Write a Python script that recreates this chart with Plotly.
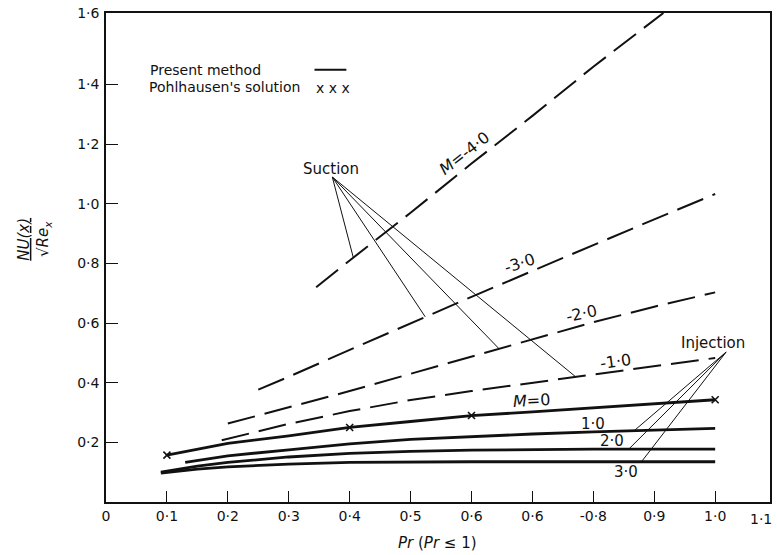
import numpy as np
import plotly.graph_objects as go

# ---------------- data ----------------
# Present method, injection / impermeable (solid lines)
x_m0 = [0.10, 0.20, 0.30, 0.40, 0.50, 0.60, 0.70, 0.80, 0.90, 1.00]
y_m0 = [0.157, 0.197, 0.222, 0.250, 0.270, 0.290, 0.302, 0.316, 0.330, 0.343]

x_m1 = [0.13, 0.20, 0.30, 0.40, 0.50, 0.60, 0.70, 0.80, 0.90, 1.00]
y_m1 = [0.133, 0.155, 0.175, 0.195, 0.210, 0.220, 0.228, 0.235, 0.241, 0.247]

x_m2 = [0.09, 0.15, 0.20, 0.30, 0.40, 0.50, 0.60, 0.70, 0.80, 0.90, 1.00]
y_m2 = [0.100, 0.120, 0.133, 0.151, 0.163, 0.170, 0.174, 0.176, 0.177, 0.177, 0.177]

x_m3 = [0.09, 0.15, 0.20, 0.30, 0.40, 0.50, 0.60, 0.70, 0.80, 0.90, 1.00]
y_m3 = [0.097, 0.110, 0.118, 0.127, 0.133, 0.135, 0.135, 0.135, 0.135, 0.135, 0.135]

# Suction (dashed lines)
x_mm1 = [0.19, 0.30, 0.40, 0.50, 0.60, 0.70, 0.80, 0.90, 1.00]
y_mm1 = [0.207, 0.262, 0.305, 0.342, 0.372, 0.400, 0.428, 0.455, 0.483]

x_mm2 = [0.20, 0.30, 0.40, 0.50, 0.60, 0.70, 0.80, 0.90, 1.00]
y_mm2 = [0.263, 0.318, 0.372, 0.430, 0.488, 0.547, 0.603, 0.655, 0.703]

x_mm3 = [0.25, 0.30, 0.40, 0.50, 0.60, 0.70, 0.80, 0.90, 1.00]
y_mm3 = [0.377, 0.420, 0.510, 0.600, 0.688, 0.775, 0.862, 0.948, 1.033]

x_mm4 = [0.345, 0.40, 0.50, 0.60, 0.70, 0.80, 0.915]
y_mm4 = [0.720, 0.810, 0.970, 1.135, 1.295, 1.460, 1.640]

# Pohlhausen's solution (x markers, M = 0)
x_pohl = [0.1, 0.4, 0.6, 1.0]
y_pohl = [0.157, 0.250, 0.290, 0.343]

# axis ticks
x_tickvals = [0, 0.1, 0.2, 0.3, 0.4, 0.5, 0.6, 0.7, 0.8, 0.9, 1.0]
x_ticktext = ["0", "0·1", "0·2", "0·3", "0·4", "0·5", "0·6", "0·6", "-0·8", "0·9", "1·0"]
y_tickvals = [0.2, 0.4, 0.6, 0.8, 1.0, 1.2, 1.4, 1.64]
y_ticktext = ["0·2", "0·4", "0·6", "0·8", "1·0", "1·2", "1·4", "1·6"]

# leader-line targets (x on each curve)
suction_targets = [(0.406, x_mm4, y_mm4), (0.524, x_mm3, y_mm3),
                   (0.645, x_mm2, y_mm2), (0.771, x_mm1, y_mm1)]
injection_targets = [(0.867, x_m1, y_m1), (0.858, x_m2, y_m2), (0.879, x_m3, y_m3)]

FONT = "DejaVu Sans"
BLACK = "#111111"

fig = go.Figure()

for xs, ys in [(x_m0, y_m0), (x_m1, y_m1), (x_m2, y_m2), (x_m3, y_m3)]:
    fig.add_trace(go.Scatter(x=xs, y=ys, mode="lines",
                             line=dict(color=BLACK, width=2.8),
                             showlegend=False, hoverinfo="skip"))

for xs, ys in [(x_mm1, y_mm1), (x_mm2, y_mm2), (x_mm3, y_mm3), (x_mm4, y_mm4)]:
    fig.add_trace(go.Scatter(x=xs, y=ys, mode="lines",
                             line=dict(color=BLACK, width=2.0, dash="28px,10px"),
                             showlegend=False, hoverinfo="skip"))

fig.add_trace(go.Scatter(x=x_pohl, y=y_pohl, mode="markers",
                         marker=dict(symbol="x-thin", size=7,
                                     line=dict(color=BLACK, width=1.6)),
                         showlegend=False, hoverinfo="skip"))

shapes = []
# Suction leaders
sx0, sy0 = 0.3715, 1.09
for xt, xs, ys in suction_targets:
    shapes.append(dict(type="line", xref="x", yref="y", x0=sx0, y0=sy0,
                       x1=xt, y1=float(np.interp(xt, xs, ys)),
                       line=dict(color=BLACK, width=1)))
# Injection leaders
ix0, iy0 = 1.018, 0.503
for xt, xs, ys in injection_targets:
    shapes.append(dict(type="line", xref="x", yref="y", x0=ix0, y0=iy0,
                       x1=xt, y1=float(np.interp(xt, xs, ys)),
                       line=dict(color=BLACK, width=1)))
# legend sample line
shapes.append(dict(type="line", xref="paper", yref="paper", x0=0.314, x1=0.362,
                   y0=0.884, y1=0.884, line=dict(color=BLACK, width=2)))

ann = []
def label(x, y, text, angle=0, size=14, xref="x", yref="y", xanchor="center"):
    ann.append(dict(x=x, y=y, xref=xref, yref=yref, text=text, showarrow=False,
                    textangle=angle, xanchor=xanchor, yanchor="middle",
                    font=dict(family=FONT, size=size, color=BLACK)))

label(0.5876, 1.170, "<i>M</i>=-4·0", angle=-38, size=16)
label(0.678, 0.800, "-3·0", angle=-18, size=16)
label(0.781, 0.632, "-2·0", angle=-12, size=16)
label(0.836, 0.472, "-1·0", angle=-8, size=16)
label(0.699, 0.340, "<i>M</i>=0", angle=-3, size=16)
label(0.800, 0.263, "1·0", size=15)
label(0.830, 0.203, "2·0", size=15)
label(0.854, 0.100, "3·0", size=15)
label(0.370, 1.117, "Suction", size=15)
label(0.997, 0.533, "Injection", size=15)

# legend texts
label(0.063, 0.884, "Present method", xref="paper", yref="paper", xanchor="left")
label(0.061, 0.848, "Pohlhausen's solution", xref="paper", yref="paper", xanchor="left")
label(0.314, 0.846, "x x x", xref="paper", yref="paper", xanchor="left")

# last x tick label (x = 1.1, at the right edge of the frame)
ann.append(dict(x=1.0 + 4 / 666, y=-0.014, xref="paper", yref="paper", text="1·1",
                showarrow=False, xanchor="right", yanchor="top",
                font=dict(family=FONT, size=14, color=BLACK)))

# axis titles
ann.append(dict(x=0.4985, y=-0.083, xref="paper", yref="paper",
                text="<i>Pr</i> (<i>Pr</i> ≤ 1)", showarrow=False,
                xanchor="center", yanchor="middle",
                font=dict(family=FONT, size=15, color=BLACK)))
ann.append(dict(x=-0.108, y=0.537, xref="paper", yref="paper",
                text="<u><i>NU(x)</i></u><br>√<i>Re</i><sub><i>x</i></sub>",
                showarrow=False, textangle=-90, xanchor="center", yanchor="middle",
                font=dict(family=FONT, size=15, color=BLACK)))

fig.update_layout(
    width=777, height=555,
    margin=dict(l=106, r=5, t=10, b=53),
    paper_bgcolor="white", plot_bgcolor="white",
    shapes=shapes, annotations=ann,
    font=dict(family=FONT, size=14, color=BLACK),
    xaxis=dict(range=[0, 1.09], tickvals=x_tickvals, ticktext=x_ticktext,
               ticks="inside", ticklen=11, tickwidth=1, tickcolor=BLACK,
               showline=True, linecolor=BLACK, linewidth=1.6, mirror=True,
               showgrid=False, zeroline=False,
               tickfont=dict(family=FONT, size=14, color=BLACK)),
    yaxis=dict(range=[0, 1.64], tickvals=y_tickvals, ticktext=y_ticktext,
               ticks="inside", ticklen=12, tickwidth=1, tickcolor=BLACK,
               showline=True, linecolor=BLACK, linewidth=1.6, mirror=True,
               showgrid=False, zeroline=False, ticklabelstandoff=2,
               tickfont=dict(family=FONT, size=14, color=BLACK)),
)

fig.write_html("out.html")
